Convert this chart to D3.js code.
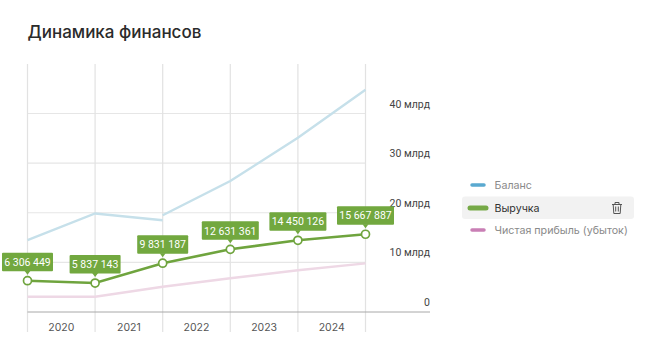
<!DOCTYPE html>
<html>
<head>
<meta charset="utf-8">
<script src="https://cdn.jsdelivr.net/npm/d3@7"></script>
<style>
    html, body { margin: 0; padding: 0; background: #fff; }
    text { font-family: "Inter", "Noto Sans", sans-serif; }
    text.narrow { font-family: "Roboto", sans-serif; }
</style>
</head>
<body>
<div id="chart"></div>
<script>
// Data, in thousands of rubles
const steps = ["s0", "s1", "s2", "s3", "s4", "s5"];
const years = ["2020", "2021", "2022", "2023", "2024"];
const revenue = [6306449, 5837143, 9831187, 12631361, 14450126, 15667887];
// the balance line has a visible break at the third step, so two pieces
const balanceStart = [14500000, 19850000, 18500000, null, null, null];
const balanceEnd = [null, null, 19500000, 26400000, 35100000, 44800000];
const profit = [3080000, 3080000, 5100000, 6800000, 8400000, 9800000];
const yTicks = [0, 10000000, 20000000, 30000000, 40000000];
const yTickLabels = ["0", "10 млрд", "20 млрд", "30 млрд", "40 млрд"];
const legendNames = ["Баланс", "Выручка", "Чистая прибыль (убыток)"];

const width = 656;
const height = 352;

const svg = d3.select("#chart")
    .append("svg")
    .attr("width", width)
    .attr("height", height)
    .style("display", "block");

// Title
svg.append("text")
    .attr("x", 27.5)
    .attr("y", 38)
    .attr("font-size", 17)
    .attr("font-weight", 500)
    .attr("fill", "#2b2b2b")
    .text("Динамика финансов");

// Scales
const x = d3.scalePoint().domain(steps).range([27.5, 365.5]);
const y = d3.scaleLinear().domain([0, 40000000]).range([312, 113.5]);

// Grid
svg.append("g")
    .selectAll("line")
    .data(yTicks.slice(1))
    .join("line")
    .attr("x1", 27.5)
    .attr("x2", 365.5)
    .attr("y1", d => y(d))
    .attr("y2", d => y(d))
    .attr("stroke", "#e6e6e6")
    .attr("stroke-width", 1.2);

svg.append("g")
    .selectAll("line")
    .data(steps)
    .join("line")
    .attr("x1", d => x(d))
    .attr("x2", d => x(d))
    .attr("y1", 64)
    .attr("y2", 332)
    .attr("stroke", "#e2e2e2")
    .attr("stroke-width", 1.2);

// Baseline
svg.append("line")
    .attr("x1", 27.5)
    .attr("x2", 430)
    .attr("y1", y(0))
    .attr("y2", y(0))
    .attr("stroke", "#a8a8a8")
    .attr("stroke-width", 1);

// Y labels sit above their gridlines, on the right
svg.append("g")
    .selectAll("text")
    .data(yTicks)
    .join("text")
    .attr("class", "narrow")
    .attr("x", 430)
    .attr("y", d => y(d) - 6)
    .attr("text-anchor", "end")
    .attr("font-size", 10.5)
    .attr("fill", "#444")
    .text((d, i) => yTickLabels[i]);

// Year labels sit between the vertical lines
svg.append("g")
    .selectAll("text")
    .data(years)
    .join("text")
    .attr("x", (d, i) => (x(steps[i]) + x(steps[i + 1])) / 2)
    .attr("y", 331)
    .attr("text-anchor", "middle")
    .attr("font-size", 10.5)
    .attr("fill", "#555")
    .text(d => d);

// Lines
const line = d3.line()
    .defined(d => d !== null)
    .x((d, i) => x(steps[i]))
    .y(d => y(d));

[balanceStart, balanceEnd].forEach(function(series) {
    svg.append("path")
        .attr("d", line(series))
        .attr("fill", "none")
        .attr("stroke", "#c6e0ea")
        .attr("stroke-width", 2.4);
});

svg.append("path")
    .attr("d", line(profit))
    .attr("fill", "none")
    .attr("stroke", "#eed8e5")
    .attr("stroke-width", 2.4);

svg.append("path")
    .attr("d", line(revenue))
    .attr("fill", "none")
    .attr("stroke", "#6fa43e")
    .attr("stroke-width", 2.6);

// Points
svg.append("g")
    .selectAll("circle")
    .data(revenue)
    .join("circle")
    .attr("cx", (d, i) => x(steps[i]))
    .attr("cy", d => y(d))
    .attr("r", 4)
    .attr("fill", "#fff")
    .attr("stroke", "#6fa43e")
    .attr("stroke-width", 1.7);

// Value labels with a small pointer
const fmt = d => d3.format(",")(d).replace(/,/g, " ");
const labels = svg.append("g")
    .selectAll("g")
    .data(revenue)
    .join("g")
    .attr("transform", (d, i) => `translate(${x(steps[i])},${y(d)})`);

labels.append("path")
    .attr("d", "M-3,-10 L0,-6 L3,-10 Z")
    .attr("fill", "#72a83f");

// 7 digit labels are narrower than 8 digit ones
labels.append("rect")
    .attr("x", d => d < 10000000 ? -25.5 : -28.5)
    .attr("y", -28)
    .attr("width", d => d < 10000000 ? 51 : 57)
    .attr("height", 18.5)
    .attr("rx", 1)
    .attr("fill", "#72a83f");

labels.append("text")
    .attr("class", "narrow")
    .attr("x", 0)
    .attr("y", -14.8)
    .attr("text-anchor", "middle")
    .attr("font-size", 10.5)
    .attr("fill", "#fff")
    .text(d => fmt(d));

// Legend
svg.append("rect")
    .attr("x", 462)
    .attr("y", 196.5)
    .attr("width", 172)
    .attr("height", 22.5)
    .attr("rx", 3)
    .attr("fill", "#f2f2f2");

const legendColors = ["#5aa9d0", "#76a947", "#c97fb5"];
const legendY = [185, 208, 230];
const legendText = ["#8a8a8a", "#333", "#8a8a8a"];

const legend = svg.append("g")
    .selectAll("g")
    .data(legendNames)
    .join("g")
    .attr("transform", (d, i) => `translate(0,${legendY[i]})`);

legend.append("line")
    .attr("x1", (d, i) => i === 1 ? 470 : 472)
    .attr("x2", (d, i) => i === 1 ? 486 : 484)
    .attr("stroke", (d, i) => legendColors[i])
    .attr("stroke-width", (d, i) => i === 1 ? 5 : 3.5)
    .attr("stroke-linecap", "round");

legend.append("text")
    .attr("x", 494.5)
    .attr("y", 4)
    .attr("font-size", 10.7)
    .attr("fill", (d, i) => legendText[i])
    .text(d => d);

// Trash icon
const trash = svg.append("g")
    .attr("transform", "translate(617,208)")
    .attr("fill", "none")
    .attr("stroke", "#555")
    .attr("stroke-width", 1);
trash.append("path").attr("d", "M-5,-3.5 H5 M-2,-3.5 V-5.5 H2 V-3.5 M-3.8,-3.5 L-3.2,5.5 H3.2 L3.8,-3.5 M-1.3,-1.5 V3.5 M1.3,-1.5 V3.5");
</script>
</body>
</html>
